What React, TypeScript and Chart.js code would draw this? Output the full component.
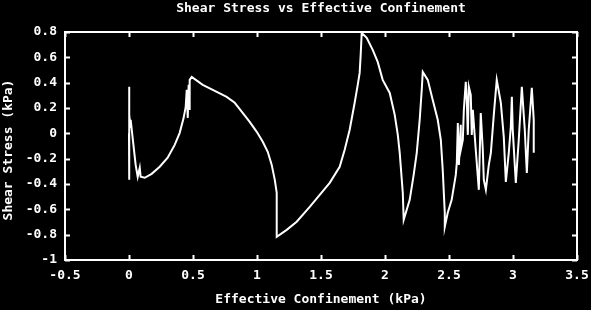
import React, { useEffect, useRef } from "react";
import { Chart, registerables } from "chart.js";

Chart.register(...registerables);

const chartTitle = "Shear Stress vs Effective Confinement";
const xAxisTitle = "Effective Confinement (kPa)";
const yAxisTitle = "Shear Stress (kPa)";

const xTickRange = { min: -0.5, max: 3.5, step: 0.5 };
const yTickRange = { min: -1, max: 0.8, step: 0.2 };

// Effective confinement (kPa)
const confinement = [
  0, 0, 0, 0.002, 0.005, 0.013, 0.013, 0.03, 0.052, 0.068, 0.084, 0.091, 0.123, 0.177, 0.24, 0.302,
  0.357, 0.396, 0.427, 0.443, 0.451, 0.459, 0.466, 0.474, 0.474, 0.49,
  0.576, 0.67, 0.763, 0.826, 0.888, 0.943, 0.998, 1.045, 1.084, 1.115, 1.139, 1.154, 1.154,
  1.232, 1.31, 1.412, 1.49, 1.568, 1.646, 1.685, 1.724, 1.763, 1.787, 1.802, 1.81, 1.818,
  1.857, 1.904, 1.943, 1.982, 2.037, 2.076, 2.1, 2.115, 2.139, 2.146,
  2.193, 2.224, 2.248, 2.271, 2.287, 2.295,
  2.334, 2.373, 2.412, 2.436, 2.451, 2.467, 2.467,
  2.49, 2.521, 2.553, 2.561, 2.569, 2.577, 2.592, 2.592, 2.608, 2.616, 2.631, 2.639, 2.647, 2.655,
  2.67, 2.678, 2.686, 2.709, 2.733, 2.748, 2.764, 2.772, 2.788, 2.811, 2.827, 2.85, 2.873, 2.905,
  2.928, 2.944, 2.967, 2.983, 2.991, 2.998, 3.022, 3.045, 3.069, 3.092, 3.108, 3.123, 3.147, 3.162,
  3.162,
];

// Shear stress (kPa)
const shearStress = [
  0, 0.367, -0.367, 0.043, 0.146, 0.043, 0.107, -0.05, -0.249, -0.343, -0.272, -0.343, -0.351, -0.32, -0.264, -0.193,
  -0.091, 0.004, 0.122, 0.209, 0.343, 0.122, 0.383, 0.185, 0.422, 0.446,
  0.383, 0.335, 0.288, 0.241, 0.162, 0.091, 0.012, -0.067, -0.146, -0.249, -0.367, -0.47, -0.817,
  -0.762, -0.698, -0.58, -0.485, -0.391, -0.264, -0.13, 0.028, 0.241, 0.383, 0.477, 0.619, 0.793,
  0.754, 0.659, 0.564, 0.422, 0.319, 0.146, -0.012, -0.154, -0.47, -0.683,
  -0.525, -0.328, -0.154, 0.107, 0.343, 0.485,
  0.422, 0.264, 0.107, -0.051, -0.288, -0.627, -0.738,
  -0.627, -0.525, -0.328, -0.233, 0.082, -0.249, 0.067, -0.13, -0.051, 0.185, 0.406, 0.264, -0.012, 0.367,
  0.304, -0.012, 0.185, -0.13, -0.446, 0.161, -0.13, -0.367, -0.446, -0.249, -0.154, 0.146, 0.422, 0.241,
  -0.028, -0.383, -0.154, 0.051, 0.288, 0.028, -0.391, -0.051, 0.367, 0.028, -0.312, 0.028, 0.359, 0.107,
  -0.154,
];

const FONT_FAMILY = "'DejaVu Sans Mono', 'Liberation Mono', monospace";

const framePlugin = {
  id: "gnuplotFrame",
  beforeDraw(chart: any) {
    const { ctx, width, height } = chart;
    ctx.save();
    ctx.fillStyle = "#000";
    ctx.fillRect(0, 0, width, height);
    ctx.restore();
  },
  afterDraw(chart: any) {
    const { ctx, chartArea } = chart;
    const { left, right, top, bottom } = chartArea;
    const xs = chart.scales.x;
    const ys = chart.scales.y;
    ctx.save();
    ctx.strokeStyle = "#fff";
    ctx.lineWidth = 2;
    ctx.strokeRect(left, top, right - left, bottom - top);
    const tl = 5;
    ctx.beginPath();
    xs.ticks.forEach((t: any) => {
      const px = Math.round(xs.getPixelForValue(t.value)) + 0.5;
      ctx.moveTo(px, bottom);
      ctx.lineTo(px, bottom - tl);
      ctx.moveTo(px, top);
      ctx.lineTo(px, top + tl);
    });
    ys.ticks.forEach((t: any) => {
      const py = Math.round(ys.getPixelForValue(t.value)) + 0.5;
      ctx.moveTo(left, py);
      ctx.lineTo(left + tl, py);
      ctx.moveTo(right, py);
      ctx.lineTo(right - tl, py);
    });
    ctx.stroke();

    ctx.fillStyle = "#fff";
    ctx.font = `bold 13px ${FONT_FAMILY}`;
    ctx.textAlign = "center";
    ctx.textBaseline = "middle";
    ctx.fillText(chartTitle, (left + right) / 2, 9);
    ctx.fillText(xAxisTitle, (left + right) / 2, 300);
    ctx.translate(9, (top + bottom) / 2 + 4);
    ctx.rotate(-Math.PI / 2);
    ctx.fillText(yAxisTitle, 0, 0);
    ctx.restore();
  },
};

export default function App() {
  const canvasRef = useRef<HTMLCanvasElement | null>(null);

  useEffect(() => {
    const canvas = canvasRef.current;
    if (!canvas) return;
    const points = confinement.map((x, i) => ({ x, y: shearStress[i] }));
    const tickFont = { family: FONT_FAMILY, size: 13, weight: "bold" as const };
    const chart = new Chart(canvas, {
      type: "scatter",
      data: {
        datasets: [
          {
            data: points,
            showLine: true,
            borderColor: "#fff",
            backgroundColor: "#fff",
            borderWidth: 2,
            pointRadius: 0,
            tension: 0,
          },
        ],
      },
      options: {
        responsive: false,
        animation: false,
        devicePixelRatio: 1,
        layout: { padding: { top: 32, right: 14, left: 0, bottom: 0 } },
        plugins: { legend: { display: false }, tooltip: { enabled: false }, title: { display: false } },
        scales: {
          x: {
            type: "linear",
            min: xTickRange.min,
            max: xTickRange.max,
            afterFit: (s: any) => {
              s.height = 50;
              s.paddingLeft = 0;
              s.paddingRight = 0;
            },
            grid: { display: false, drawTicks: false },
            border: { display: false },
            ticks: {
              stepSize: xTickRange.step,
              color: "#fff",
              font: tickFont,
              padding: 8,
              maxRotation: 0,
              autoSkip: false,
              callback: (v: any) => String(Number(Number(v).toFixed(1))),
            },
          },
          y: {
            type: "linear",
            min: yTickRange.min,
            max: yTickRange.max,
            afterFit: (s: any) => {
              s.width = 65;
              s.paddingTop = 0;
              s.paddingBottom = 0;
            },
            grid: { display: false, drawTicks: false },
            border: { display: false },
            ticks: {
              stepSize: yTickRange.step,
              color: "#fff",
              font: tickFont,
              padding: 8,
              autoSkip: false,
              callback: (v: any) => String(Number(Number(v).toFixed(1))),
            },
          },
        },
      },
      plugins: [framePlugin],
    });
    return () => chart.destroy();
  }, []);

  return (
    <div style={{ position: "fixed", left: 0, top: 0, width: 591, height: 310, background: "#000" }}>
      <canvas ref={canvasRef} width={591} height={310} style={{ display: "block", width: 591, height: 310 }} />
    </div>
  );
}
